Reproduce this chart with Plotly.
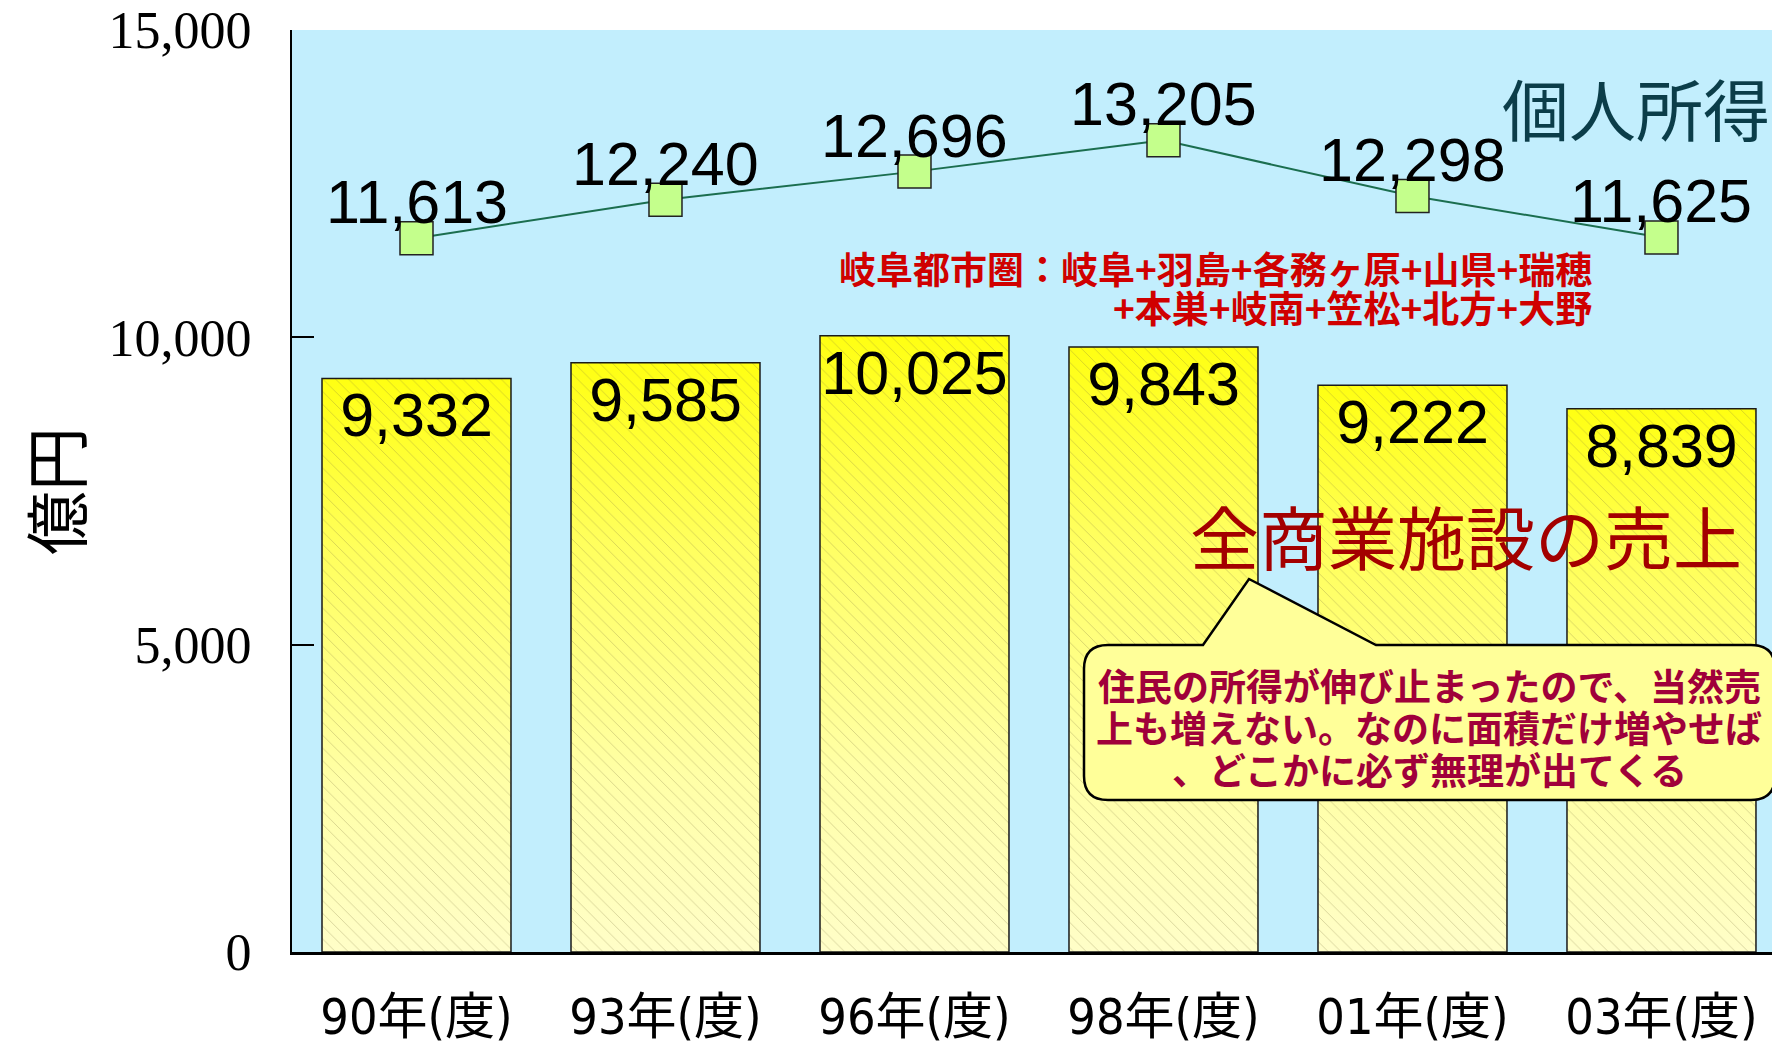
import plotly.graph_objects as go

# ---- data ----
categories = ["90年(度)", "93年(度)", "96年(度)", "98年(度)", "01年(度)", "03年(度)"]
sales = [9332, 9585, 10025, 9843, 9222, 8839]          # 全商業施設の売上 (億円)
income = [11613, 12240, 12696, 13205, 12298, 11625]    # 個人所得 (億円)
y_tickvals = [0, 5000, 10000, 15000]
y_ticktext = ["0", "5,000", "10,000", "15,000"]

idx = list(range(len(categories)))
BAR_W = 0.759
X_RANGE = [-0.5, 5.476]

OFF = 8  # page body margin
W, H = 1780 - OFF, 1047 - OFF
L, T = 292 - OFF, 30 - OFF
R = 0
B = H - (952 - OFF)
PW, PH = W - L - R, H - T - B

def px(x):
    return (x - OFF - L) / PW

def py(y):
    return (H - B - (y - OFF)) / PH

CJK = "Noto Sans CJK JP"
NUMFONT = dict(family="Liberation Sans, Arial", size=61, color="black")
GRAD = [[0.0, "#fffec8"], [0.3, "#ffffa6"], [0.7, "#ffff5c"], [1.0, "#ffff12"]]

fig = go.Figure()

# gradient fill of each sales bar (underlay on the main x axis)
for i, v in zip(idx, sales):
    hw = BAR_W / 2
    fig.add_trace(go.Scatter(
        x=[i - hw, i + hw, i + hw, i - hw, i - hw], y=[0, 0, v, v, 0],
        mode="lines", fill="toself", line=dict(width=0, color="rgba(0,0,0,0)"),
        fillgradient=dict(type="vertical", colorscale=GRAD, start=0, stop=v),
        showlegend=False, hoverinfo="skip", xaxis="x", yaxis="y",
    ))

# sales bars (outline, hatching, value labels) on the overlay axis
fig.add_trace(go.Bar(
    x=idx, y=sales, width=BAR_W, xaxis="x2", yaxis="y",
    marker=dict(
        color="rgba(0,0,0,0)",
        line=dict(color="#1a1a1a", width=1.5),
        pattern=dict(shape="\\", fgcolor="#7c7440", bgcolor="rgba(0,0,0,0)",
                     fgopacity=0.4, size=9, solidity=0.08),
    ),
    texttemplate="%{y:,}",
    textposition="inside",
    insidetextanchor="end",
    constraintext="none",
    textangle=0,
    insidetextfont=NUMFONT,
    showlegend=False,
    hoverinfo="skip",
))

fig.add_trace(go.Scatter(
    x=idx, y=income, xaxis="x2", yaxis="y",
    mode="lines+markers",
    line=dict(color="#1b6e4f", width=2),
    marker=dict(symbol="square", size=33, color="#c4ff8c", line=dict(color="#222222", width=1.5)),
    showlegend=False,
    hoverinfo="skip",
    cliponaxis=False,
))

# value labels of the income line, anchored to the data points
for i, v in zip(idx, income):
    fig.add_annotation(x=i, y=v, xref="x2", yref="y", text=f"{v:,}", showarrow=False,
                       yanchor="bottom", yshift=0, font=NUMFONT)

# speech bubble (pixel geometry converted to paper coords)
x0, x1, y0, y1, r = 1084, 1775, 645, 800, 24
tx0, tx1, apx, apy = 1203, 1376, 1249, 579
pts = [
    f"M {px(x0 + r)},{py(y0)}",
    f"L {px(tx0)},{py(y0)}",
    f"L {px(apx)},{py(apy)}",
    f"L {px(tx1)},{py(y0)}",
    f"L {px(x1 - r)},{py(y0)}",
    f"Q {px(x1)},{py(y0)} {px(x1)},{py(y0 + r)}",
    f"L {px(x1)},{py(y1 - r)}",
    f"Q {px(x1)},{py(y1)} {px(x1 - r)},{py(y1)}",
    f"L {px(x0 + r)},{py(y1)}",
    f"Q {px(x0)},{py(y1)} {px(x0)},{py(y1 - r)}",
    f"L {px(x0)},{py(y0 + r)}",
    f"Q {px(x0)},{py(y0)} {px(x0 + r)},{py(y0)}",
    "Z",
]
fig.add_shape(type="path", path=" ".join(pts), xref="paper", yref="paper",
              fillcolor="#ffff99", line=dict(color="black", width=2.5), layer="above")

annotations = [
    dict(text="個人所得", x=px(1636), y=py(107), font=dict(family=CJK, size=67, color="#0b3d49")),
    dict(text="岐阜都市圏：岐阜+羽島+各務ヶ原+山県+瑞穂", x=px(1594), y=py(268), xanchor="right",
         font=dict(family=CJK, size=37, color="#d00000", weight="bold")),
    dict(text="+本巣+岐南+笠松+北方+大野", x=px(1594), y=py(307), xanchor="right",
         font=dict(family=CJK, size=37, color="#d00000", weight="bold")),
    dict(text="全商業施設の売上", x=px(1466), y=py(535), font=dict(family=CJK, size=69, color="#a30000")),
    dict(text="住民の所得が伸び止まったので、当然売", x=px(1429), y=py(685),
         font=dict(family=CJK, size=37, color="#a0003a", weight="bold")),
    dict(text="上も増えない。なのに面積だけ増やせば", x=px(1429), y=py(727),
         font=dict(family=CJK, size=37, color="#a0003a", weight="bold")),
    dict(text="、どこかに必ず無理が出てくる", x=px(1429), y=py(769),
         font=dict(family=CJK, size=37, color="#a0003a", weight="bold")),
    dict(text="億円", x=px(53), y=0.5, textangle=-90, font=dict(family=CJK, size=64, color="black")),
]
for a in annotations:
    a.setdefault("xanchor", "center")
    a.update(xref="paper", yref="paper", showarrow=False, yanchor="middle")
    fig.add_annotation(**a)

fig.update_layout(
    width=W, height=H,
    margin=dict(l=L, r=R, t=T, b=B, autoexpand=False),
    paper_bgcolor="white",
    plot_bgcolor="#c2eefd",
    xaxis=dict(
        range=X_RANGE,
        tickvals=idx, ticktext=categories,
        showline=True, linecolor="black", linewidth=3,
        showgrid=False, zeroline=False,
        ticks="", ticklabelstandoff=19,
        tickfont=dict(family="Liberation Sans Narrow, DejaVu Sans Condensed, Noto Sans CJK JP", size=50, color="black"),
        automargin=False,
    ),
    xaxis2=dict(
        range=X_RANGE, overlaying="x", visible=False,
        showgrid=False, zeroline=False,
    ),
    yaxis=dict(
        range=[0, 15000],
        tickvals=y_tickvals, ticktext=y_ticktext,
        showline=True, linecolor="black", linewidth=2,
        showgrid=False, zeroline=False,
        ticks="inside", ticklen=22, tickwidth=2, tickcolor="black",
        ticklabelstandoff=28, ticklabeloverflow="allow",
        tickfont=dict(family="Liberation Serif, Times New Roman", size=52, color="black"),
        automargin=False,
    ),
)

fig.write_html("out.html")
